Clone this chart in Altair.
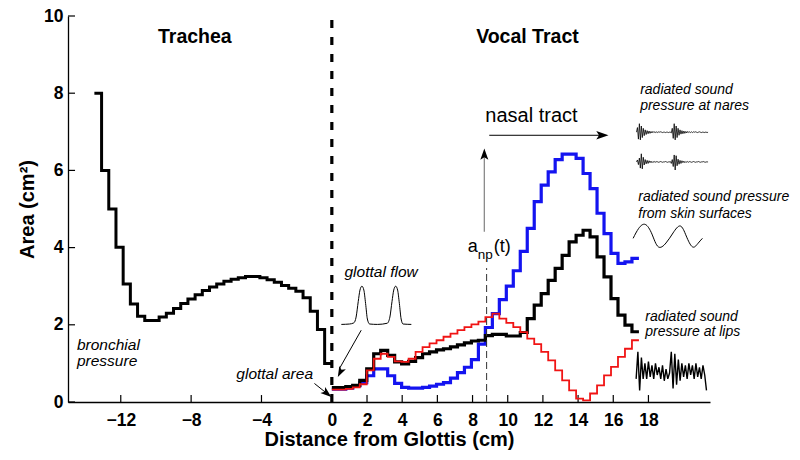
import altair as alt
import pandas as pd

FONT = "Liberation Sans"

# ---------------- data ----------------
trachea_start = -13.5
trachea_len = 13.5
trachea_area = [8.0, 6.0, 5.0, 4.01, 3.06, 2.54, 2.22, 2.11, 2.11, 2.2,
                2.3, 2.42, 2.55, 2.67, 2.78, 2.89, 2.98, 3.06, 3.13, 3.18,
                3.22, 3.25, 3.25, 3.22, 3.17, 3.1, 3.02, 2.95, 2.87, 2.7,
                2.35, 1.88, 1.0]

vt_section = 0.3968
vt_blue = [0.33, 0.33, 0.36, 0.42, 0.5, 0.68, 0.86, 0.86, 0.68, 0.48,
           0.38, 0.36, 0.36, 0.38, 0.41, 0.46, 0.5, 0.62, 0.76, 0.9,
           1.1, 1.5, 1.93, 2.29, 2.65, 3.0, 3.4, 3.9, 4.5, 5.19,
           5.62, 5.96, 6.28, 6.42, 6.42, 6.31, 5.92, 5.53, 4.89, 4.36,
           3.85, 3.59, 3.63, 3.72]
vt_black = [0.37, 0.37, 0.4, 0.43, 0.56, 0.86, 1.25, 1.34, 1.21, 1.04,
            0.99, 1.05, 1.15, 1.25, 1.3, 1.35, 1.38, 1.43, 1.48, 1.53,
            1.58, 1.6, 1.72, 1.75, 1.75, 1.71, 1.71, 1.8, 2.16, 2.51,
            2.81, 3.15, 3.46, 3.8, 4.15, 4.32, 4.45, 4.28, 3.76, 3.24,
            2.68, 2.25, 1.99, 1.82]
vt_red = [0.32, 0.32, 0.34, 0.38, 0.46, 0.82, 1.12, 1.25, 1.17, 1.05,
          1.04, 1.12, 1.3, 1.42, 1.52, 1.6, 1.69, 1.77, 1.86, 1.94,
          2.01, 2.08, 2.2, 2.29, 2.16, 2.05, 1.94, 1.81, 1.64, 1.5,
          1.3, 1.08, 0.82, 0.56, 0.3, 0.09, 0.04, 0.22, 0.43, 0.69,
          0.91, 1.17, 1.38, 1.6]

x_ticks = [-12, -8, -4, 0, 2, 4, 6, 8, 10, 12, 14, 16, 18]
y_ticks = [0, 2, 4, 6, 8, 10]

# glottal flow pulses (illustration)
glot_x = [0.54, 1.0, 1.25, 1.38, 1.5, 1.6, 1.71, 1.82, 1.92, 2.02, 2.15, 2.6,
          3.15, 3.3, 3.42, 3.52, 3.63, 3.74, 3.84, 3.94, 4.05, 4.52]
glot_y = [2.01, 2.02, 2.05, 2.2, 2.6, 2.9, 3.0, 2.9, 2.55, 2.15, 2.02, 2.01,
          2.04, 2.2, 2.6, 2.9, 3.0, 2.9, 2.55, 2.15, 2.02, 2.01]

# radiated pressure at nares (two traces), offsets in 1/100 cm2
nares_x0, nares_dx = 17.32, 0.055
nares1_center, nares2_center = 6.99, 6.22
nares1 = [0, 12, -18, 22, -20, 16, -14, 10, -9, 6,
          -6, 4, -4, 3, -3, 2, -2, 2, -1, 1,
          -1, 1, -1, 1, 0, 1, 0, -1, 0, 0,
          -1, 0, 0, -1, 0, 0, -2, 10, -16, 22,
          -20, 16, -14, 10, -8, 6, -5, 4, -4, 3,
          -3, 2, -2, 2, -1, 1, -1, 1, -1, 1,
          0, 1, 0, -1, 0, 1, 0, -1, 0, 0,
          -1, 0, 0, -1, 0]
nares2 = [0, 5, -7, 10, -16, 21, -18, 12, -8, 6,
          -5, 4, -4, 3, -2, 2, -2, 1, -1, 1,
          -1, 1, 0, -1, 0, 1, 0, -1, 0, 0,
          1, 0, -1, 0, 0, 1, -4, 6, -12, 18,
          -21, 16, -10, 7, -6, 4, -4, 3, -2, 2,
          -2, 1, -1, 1, -1, 1, 0, -1, 0, 1,
          0, -1, 0, 0, 1, 0, -1, 0, 0, 1,
          0, -1, 0, 0, 0]

# radiated pressure from skin surfaces
skin_x = [17.13, 17.45, 17.82, 18.2, 18.56, 19.0, 19.4, 19.81, 20.15, 20.5, 20.8, 21.07]
skin_y = [4.24, 4.5, 4.6, 4.35, 4.02, 4.12, 4.38, 4.56, 4.3, 4.02, 4.1, 4.24]

# radiated pressure at lips
lips_x0, lips_dx = 17.3, 0.1
lips = [0.6, 1.3, 0.3, 1.15, 0.6, 1.0, 0.6, 1.05, 0.65, 0.95,
        0.6, 1.0, 0.7, 0.9, 0.6, 0.95, 0.55, 0.85, 0.6, 0.75,
        1.3, 0.35, 1.25, 0.45, 1.1, 0.55, 1.0, 0.65, 0.95, 0.6,
        1.0, 0.7, 0.95, 0.6, 1.0, 0.65, 0.9, 0.6, 0.95, 0.7,
        0.3]


def steps(start, width, vals):
    xs = [start + i * width for i in range(len(vals))] + [start + len(vals) * width]
    ys = list(vals) + [vals[-1]]
    return pd.DataFrame({"x": xs, "y": ys})


def wave(x0, dx, vals, center=0.0, scale=1.0):
    return pd.DataFrame({"x": [x0 + i * dx for i in range(len(vals))],
                         "y": [center + v * scale for v in vals]})


# ---------------- scales / axes ----------------
xsc = alt.Scale(domain=[-15, 21.5], nice=False, zero=False)
ysc = alt.Scale(domain=[0, 10], nice=False, zero=False)

x_axis = alt.Axis(values=x_ticks, title="Distance from Glottis (cm)", grid=False,
                  ticks=False, tickSize=0, domainColor="black", domainWidth=1.3,
                  labelFont=FONT, labelFontSize=17.5, labelFontWeight="bold",
                  labelColor="black", labelPadding=9, labelOverlap=False, labelFlush=False,
                  titleFont=FONT, titleFontSize=20, titleFontWeight="bold",
                  titleColor="black", titleX=321, titleY=43.5, titleBaseline="alphabetic")
y_axis = alt.Axis(values=y_ticks, title="Area (cm²)", grid=False,
                  ticks=False, tickSize=0, domainColor="black", domainWidth=1.3,
                  labelFont=FONT, labelFontSize=17.5, labelFontWeight="bold",
                  labelColor="black", labelPadding=5, labelOverlap=False, labelFlush=False,
                  titleFont=FONT, titleFontSize=20, titleFontWeight="bold",
                  titleColor="black", titleX=-35, titleY=193, titleBaseline="alphabetic",
                  titleAlign="center", titleAngle=270)


def X(f="x"):
    return alt.X(f"{f}:Q", scale=xsc, axis=x_axis)


def Y(f="y"):
    return alt.Y(f"{f}:Q", scale=ysc, axis=y_axis)


layers = []

# trachea
layers.append(
    alt.Chart(steps(trachea_start, trachea_len / len(trachea_area), trachea_area))
    .mark_line(interpolate="step-after", color="black", strokeWidth=3, strokeJoin="miter")
    .encode(x=X(), y=Y())
)

# inward ticks
tx = pd.DataFrame({"x": x_ticks, "y": [0] * len(x_ticks), "y2": [0.18] * len(x_ticks)})
layers.append(alt.Chart(tx).mark_rule(color="black", strokeWidth=1.2)
              .encode(x=X(), y=Y(), y2="y2:Q"))
ty = pd.DataFrame({"y": y_ticks, "x": [-15] * len(y_ticks), "x2": [-14.6] * len(y_ticks)})
layers.append(alt.Chart(ty).mark_rule(color="black", strokeWidth=1.2)
              .encode(x=X(), x2="x2:Q", y=Y()))

# vocal tract area functions
for vals, col, sw in [(vt_blue, "#1414f0", 3.2), (vt_black, "black", 3.2), (vt_red, "#f01414", 1.8)]:
    layers.append(
        alt.Chart(steps(0.0, vt_section, vals))
        .mark_line(interpolate="step-after", color=col, strokeWidth=sw, strokeJoin="miter")
        .encode(x=X(), y=Y())
    )

# glottis dashed line
layers.append(alt.Chart(pd.DataFrame({"x": [0.0], "y": [0.0], "y2": [10.0]}))
              .mark_rule(color="black", strokeWidth=3.2, strokeDash=[8, 9])
              .encode(x=X(), y=Y(), y2="y2:Q"))
# velopharyngeal port dashed line
layers.append(alt.Chart(pd.DataFrame({"x": [8.8], "y": [0.0], "y2": [3.47]}))
              .mark_rule(color="#333333", strokeWidth=1, strokeDash=[7, 4])
              .encode(x=X(), y=Y(), y2="y2:Q"))

# arrow shafts
shafts_gray = pd.DataFrame({"x": [8.67], "y": [4.41], "x2": [8.67], "y2": [6.35]})
layers.append(alt.Chart(shafts_gray).mark_rule(color="#8a8a8a", strokeWidth=1.3)
              .encode(x=X(), y=Y(), x2="x2:Q", y2="y2:Q"))
shafts = pd.DataFrame({"x": [8.95, -0.99, 1.67], "y": [6.91, 0.48, 1.86],
                       "x2": [15.4, -0.25, 0.45], "y2": [6.91, 0.21, 0.88]})
layers.append(alt.Chart(shafts).mark_rule(color="black", strokeWidth=1)
              .encode(x=X(), y=Y(), x2="x2:Q", y2="y2:Q"))

ARROW = "M0,0L-2,-0.7L-1.55,0L-2,0.7Z"
for (hx, hy, ang, sz) in [(15.73, 6.91, 0, 150), (8.67, 6.57, 270, 130),
                          (-0.03, 0.13, 39, 120), (0.34, 0.65, 117, 110)]:
    layers.append(alt.Chart(pd.DataFrame({"x": [hx], "y": [hy]}))
                  .mark_point(shape=ARROW, filled=True, color="black", size=sz,
                              angle=ang, opacity=1, strokeWidth=0)
                  .encode(x=X(), y=Y()))

# waveforms
layers.append(alt.Chart(pd.DataFrame({"x": glot_x, "y": glot_y}))
              .mark_line(color="black", strokeWidth=1, interpolate="monotone")
              .encode(x=X(), y=Y()))
layers.append(alt.Chart(wave(nares_x0, nares_dx, nares1, nares1_center, 0.01))
              .mark_line(color="black", strokeWidth=0.8).encode(x=X(), y=Y()))
layers.append(alt.Chart(wave(nares_x0, nares_dx, nares2, nares2_center, 0.01))
              .mark_line(color="black", strokeWidth=0.8).encode(x=X(), y=Y()))
layers.append(alt.Chart(pd.DataFrame({"x": skin_x, "y": skin_y}))
              .mark_line(color="black", strokeWidth=1, interpolate="natural")
              .encode(x=X(), y=Y()))
layers.append(alt.Chart(wave(lips_x0, lips_dx, lips))
              .mark_line(color="black", strokeWidth=1.4).encode(x=X(), y=Y()))

# texts
bold_t = pd.DataFrame({"t": ["Trachea", "Vocal Tract"], "x": [-7.79, 11.12], "y": [9.3, 9.3]})
layers.append(alt.Chart(bold_t).mark_text(font=FONT, fontSize=19.5, fontWeight="bold",
                                          color="black", align="center", baseline="alphabetic")
              .encode(x=X(), y=Y(), text="t:N"))
layers.append(alt.Chart(pd.DataFrame({"t": ["nasal tract"], "x": [11.35], "y": [7.25]}))
              .mark_text(font=FONT, fontSize=20, color="black", align="center", baseline="alphabetic")
              .encode(x=X(), y=Y(), text="t:N"))
anp = pd.DataFrame({"t": ["a", "(t)"], "x": [7.73, 9.21], "y": [3.89, 3.89]})
layers.append(alt.Chart(anp).mark_text(font=FONT, fontSize=18, color="black",
                                       align="left", baseline="alphabetic")
              .encode(x=X(), y=Y(), text="t:N"))
layers.append(alt.Chart(pd.DataFrame({"t": ["np"], "x": [8.3], "y": [3.7]}))
              .mark_text(font=FONT, fontSize=13.5, color="black", align="left", baseline="alphabetic")
              .encode(x=X(), y=Y(), text="t:N"))
ital = pd.DataFrame({"t": ["glottal flow", "glottal area", "bronchial", "pressure"],
                     "x": [0.72, -5.43, -14.49, -14.49],
                     "y": [3.25, 0.59, 1.34, 0.93]})
layers.append(alt.Chart(ital).mark_text(font=FONT, fontSize=15.5, fontStyle="italic",
                                        color="black", align="left", baseline="alphabetic")
              .encode(x=X(), y=Y(), text="t:N"))
ital_r = pd.DataFrame({"t": ["radiated sound", "pressure at nares",
                             "radiated sound pressure", "from skin surfaces",
                             "radiated sound", "pressure at lips"],
                       "x": [17.53, 17.53, 17.42, 17.42, 17.82, 17.82],
                       "y": [7.97, 7.56, 5.2, 4.76, 2.11, 1.7]})
layers.append(alt.Chart(ital_r).mark_text(font=FONT, fontSize=14, fontStyle="italic",
                                          color="black", align="left", baseline="alphabetic")
              .encode(x=X(), y=Y(), text="t:N"))

chart = (
    alt.layer(*layers)
    .properties(width=642, height=386,
                autosize=alt.AutoSizeParams(type="none"),
                padding={"left": 60, "top": 8, "right": 82, "bottom": 50},
                background="white")
    .configure_view(stroke=None)
)

chart.save("out.html", embed_options={"renderer": "svg", "actions": False})
